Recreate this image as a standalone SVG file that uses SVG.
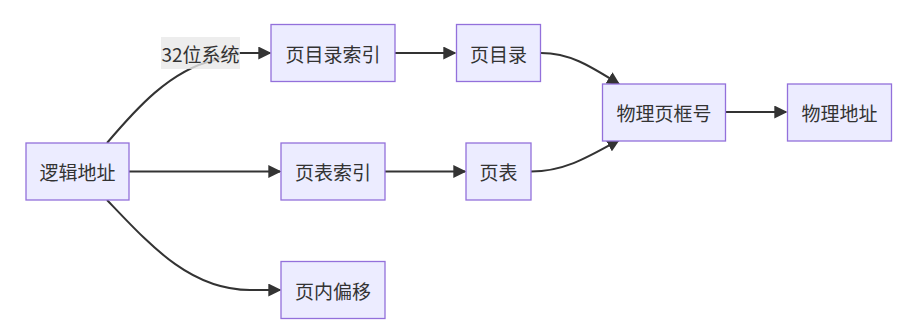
<svg xmlns="http://www.w3.org/2000/svg" width="915" height="334" viewBox="0 0 915 334">
<style>
.node rect{fill:#ECECFF;stroke:#9370DB;stroke-width:1.3}
.node text,.lbl text{font-family:"Noto Sans CJK SC","Noto Sans",sans-serif;font-size:19px;fill:#333;text-anchor:middle;dominant-baseline:central}
.edge{fill:none;stroke:#333;stroke-width:2}
</style>
<defs>
<marker id="arr" viewBox="0 0 10 10" refX="9" refY="5" markerUnits="userSpaceOnUse" markerWidth="13" markerHeight="13" orient="auto">
<path d="M0,0 L10,5 L0,10 z" fill="#333"/>
</marker>
</defs>
<rect width="915" height="334" fill="#fff"/>
<g id="edges">
<path class="edge" d="M107,143 C135,110 170,70 215,60 Q228,55 240,53 L270,53" marker-end="url(#arr)"/>
<path class="edge" d="M129,171.5 L280,171.5" marker-end="url(#arr)"/>
<path class="edge" d="M107,200 C150,245 190,290 250,290 L280,290" marker-end="url(#arr)"/>
<path class="edge" d="M395,53 L455,53" marker-end="url(#arr)"/>
<path class="edge" d="M385,171.5 L465,171.5" marker-end="url(#arr)"/>
<path class="edge" d="M541,53 C570,53 590,66 619,84" marker-end="url(#arr)"/>
<path class="edge" d="M531,171.5 C565,171.5 590,156 619,140" marker-end="url(#arr)"/>
<path class="edge" d="M726,112 L786,112" marker-end="url(#arr)"/>
<g class="lbl">
<rect x="161" y="37" width="79" height="32" fill="#e8e8e8" opacity="0.8"/>
<text x="200.5" y="53">32位系统</text>
</g>
</g>
<g id="n_logic" class="node"><rect x="26" y="143" width="103" height="57"/><text x="77.5" y="171.5">逻辑地址</text></g>
<g id="n_pdi" class="node"><rect x="271" y="24.5" width="124" height="57"/><text x="333" y="53">页目录索引</text></g>
<g id="n_pti" class="node"><rect x="281" y="143" width="104" height="57"/><text x="333" y="171.5">页表索引</text></g>
<g id="n_off" class="node"><rect x="281" y="261.5" width="104" height="57"/><text x="333" y="290">页内偏移</text></g>
<g id="n_pd" class="node"><rect x="456.5" y="24.5" width="84" height="57"/><text x="498.5" y="53">页目录</text></g>
<g id="n_pt" class="node"><rect x="466" y="143" width="65" height="57"/><text x="498.5" y="171.5">页表</text></g>
<g id="n_pfn" class="node"><rect x="602.5" y="84" width="123" height="57"/><text x="664" y="112.5">物理页框号</text></g>
<g id="n_pa" class="node"><rect x="787.5" y="84" width="104" height="57"/><text x="839.5" y="112.5">物理地址</text></g>
</svg>
